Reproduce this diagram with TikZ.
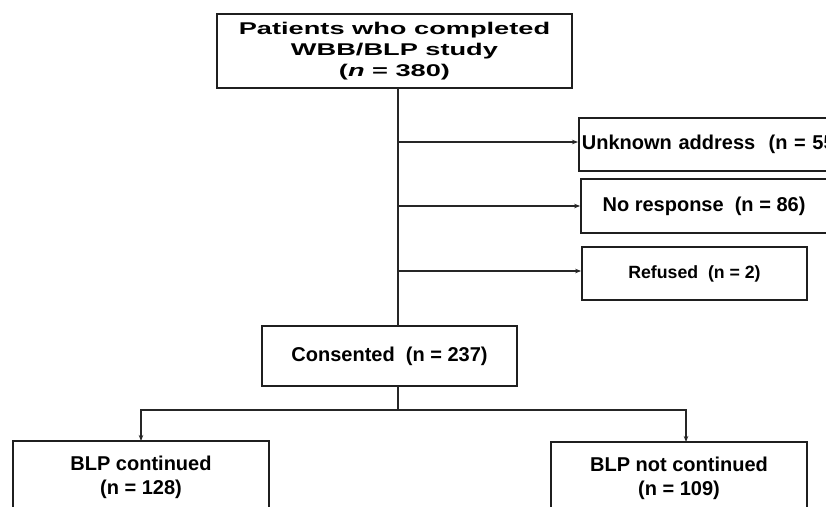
\documentclass[tikz,border=0pt]{standalone}
\usepackage{fontspec}
\usepackage{graphicx}
\setmainfont{Liberation Sans}
\usetikzlibrary{arrows.meta}
\begin{document}
\begin{tikzpicture}[x=1pt,y=-1pt,
  box/.style={draw=black!88, line width=1.8pt, inner sep=0pt, align=center, font=\bfseries\fontsize{20}{24}\selectfont},
  conn/.style={draw=black!85, line width=1.3pt},
  arr/.style={conn, -{Stealth[length=6pt,width=4.5pt]}}]
\useasboundingbox (0,0) rectangle (826,506);
\clip (0,0) rectangle (826,506);
\fill[white] (0,0) rectangle (826,506);

\node[box, minimum width=355pt, minimum height=74pt] (top) at (394.5,51)
  {\scalebox{1.6}[1]{\fontsize{17}{21}\selectfont\begin{tabular}{@{}c@{}}Patients who completed\\WBB/BLP study\\(\textit{n} = 380)\end{tabular}}};

\node[box, anchor=west, minimum height=53pt, text width=268pt, inner xsep=3pt, align=left] (unk) at (578,144.5)
  {Unknown address\ \ (n = 55)};
\node[box, minimum width=246pt, minimum height=54pt] (nor) at (704,206) {No response\ \ (n = 86)};
\node[box, minimum width=225pt, minimum height=53pt, font=\bfseries\fontsize{17.7}{21}\selectfont] (ref) at (694.5,273.5) {Refused\ \ (n = 2)};

\node[box, minimum width=255pt, minimum height=60pt] (con) at (389.5,356) {Consented\ \ (n = 237)};

\node[box, minimum width=256pt, minimum height=72pt] (blc) at (141,477) {BLP continued\\(n = 128)};
\node[box, minimum width=256pt, minimum height=72pt] (bln) at (679,478) {BLP not continued\\(n = 109)};

\coordinate (s0) at (398,88);
\coordinate (b1) at (398,142);
\coordinate (b2) at (398,206);
\coordinate (b3) at (398,271);
\coordinate (s1) at (398,326);
\coordinate (s2) at (398,386);
\coordinate (split) at (398,410);
\coordinate (ltip) at (141,441);
\coordinate (rtip) at (686,442);

\draw[conn] (s0) -- (s1);
\draw[arr] (b1) -- (b1 -| unk.west);
\draw[arr] (b2) -- (b2 -| nor.west);
\draw[arr] (b3) -- (b3 -| ref.west);
\draw[conn] (s2) -- (split);
\draw[arr] (split) -| (ltip);
\draw[arr] (split) -| (rtip);
\end{tikzpicture}
\end{document}
